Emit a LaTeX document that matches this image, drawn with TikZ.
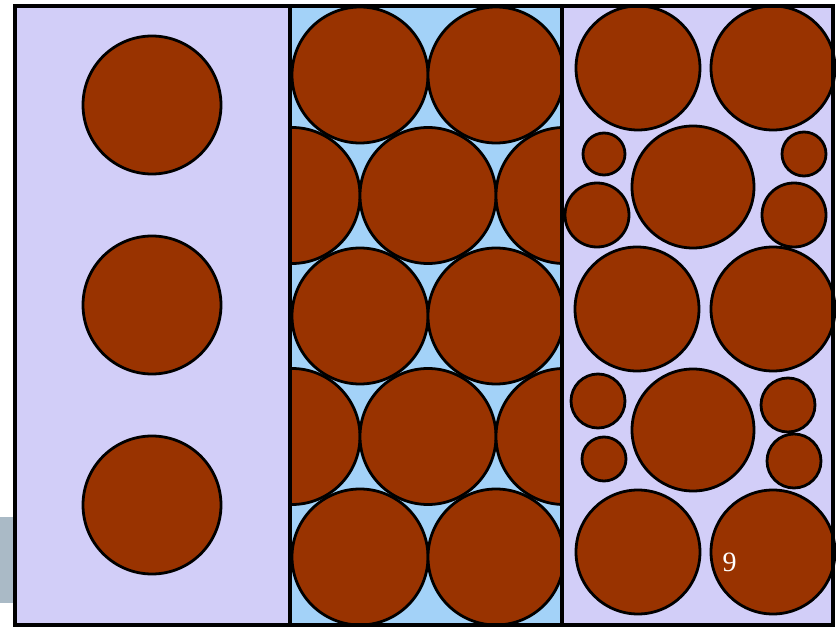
\documentclass[tikz,border=0pt]{standalone}
\usepackage{fontspec}
\setmainfont{Liberation Serif}
\definecolor{lav}{HTML}{D2CEF8}
\definecolor{sky}{HTML}{A3D2F8}
\definecolor{rust}{HTML}{993300}
\definecolor{slate}{HTML}{AABAC6}
\begin{document}
\begin{tikzpicture}[x=1pt,y=-1pt,
  grain/.style={fill=rust,draw=black,line width=2.8pt},
  frameline/.style={draw=black,line width=3.2pt}]
\useasboundingbox (0,0) rectangle (836,629);
\fill[white] (0,0) rectangle (836,629);
\fill[slate] (0,517) rectangle (15,603);
% panels
\fill[lav] (15,6) rectangle (290,625);
\fill[sky] (290,6) rectangle (562,625);
\fill[lav] (562,6) rectangle (833,625);
% left panel: sparse grains
\foreach \y in {105,305,505} \draw[grain] (152,\y) circle[radius=69pt];
% middle panel: close packing
\begin{scope}
\clip (290,6) rectangle (562,625);
\foreach \k in {0,2,4} \foreach \x in {360,496}
  \draw[grain] (\x,75+120.5*\k) circle[radius=68pt];
\foreach \k in {1,3} \foreach \x in {292,428,564}
  \draw[grain] (\x,75+120.5*\k) circle[radius=68pt];
\end{scope}
% right panel: mixed sizes
\foreach \x/\y in {638/68,773/68,637/309,773/309,638/552,773/552}
  \draw[grain] (\x,\y) circle[radius=62pt];
\foreach \y in {187,430}
  \draw[grain] (693,\y) circle[radius=61pt];
\foreach \x/\y/\r in {604/154/21,804/154/22,597/215/32,794/215/32,598/401/27,604/459/22,788/405/27,794/461/27}
  \draw[grain] (\x,\y) circle[radius=\r pt];
% frame
\draw[frameline] (15,6) rectangle (833,625);
\draw[frameline] (290,6) -- (290,625);
\draw[frameline] (562,6) -- (562,625);
\node[text=white,font=\fontsize{28}{30}\selectfont,inner sep=0pt] (nine) at (729.5,562) {9};
\end{tikzpicture}
\end{document}
